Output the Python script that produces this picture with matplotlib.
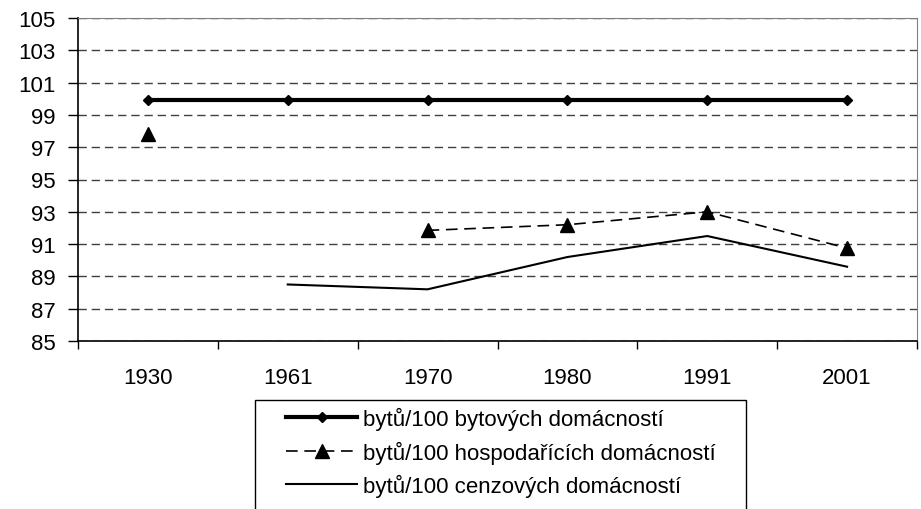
import numpy as np
import matplotlib.pyplot as plt
from matplotlib.patches import Rectangle

plt.rcParams['font.family'] = ['Liberation Sans', 'DejaVu Sans']

roky = ['1930', '1961', '1970', '1980', '1991', '2001']
bytove = [99.9, 99.9, 99.9, 99.9, 99.9, 99.9]
hospodarici = [97.8, np.nan, 91.85, 92.2, 93.0, 90.75]
cenzove = [np.nan, 88.5, 88.2, 90.2, 91.5, 89.6]

fig = plt.figure(figsize=(9.21, 5.1), dpi=100)
ax = fig.add_axes([78 / 921, 1 - 342 / 510, (917 - 78) / 921, (342 - 19) / 510])

x = np.arange(len(roky))
ax.plot(x, bytove, color='black', lw=3, marker='D', ms=5,
        label='bytů/100 bytových domácností')
ax.plot(x, hospodarici, color='black', lw=1.2, ls=(0, (7, 4)), marker='^', ms=10,
        label='bytů/100 hospodařících domácností')
ax.plot(x, cenzove, color='black', lw=1.5,
        label='bytů/100 cenzových domácností')

ax.set_xlim(-0.5, len(roky) - 0.5)
ax.set_ylim(85, 105)
ax.set_yticks(range(85, 106, 2))
ax.set_xticks(x)
ax.set_xticklabels(roky)
ax.set_xticks(np.arange(-0.5, len(roky), 1), minor=True)
ax.tick_params(axis='x', which='major', length=0, pad=19, labelsize=16)
ax.tick_params(axis='x', which='minor', length=6, width=1, direction='out')
ax.tick_params(axis='y', length=7, width=1, direction='out', pad=9, labelsize=16)

ax.yaxis.grid(True, color='#404040', ls=(0, (6, 3.5)), lw=1)
ax.set_axisbelow(True)
for s in ['top', 'right']:
    ax.spines[s].set_color('#808080')
for s in ['left', 'bottom']:
    ax.spines[s].set_color('black')
    ax.spines[s].set_linewidth(1.2)

# ramecek legendy (spodni cast je oriznuta)
fig.patches.append(Rectangle((255 / 921, -0.05), (746 - 255) / 921, 0.05 + 1 - 401 / 510,
                             transform=fig.transFigure, fill=False,
                             edgecolor='black', lw=1))
fig.legend(loc='upper left', bbox_to_anchor=(286 / 921, 1 - 408 / 510),
           frameon=False, fontsize=16, numpoints=1, handlelength=3.2,
           handletextpad=0.27, labelspacing=0.47, borderpad=0, borderaxespad=0)

plt.savefig('out.png', dpi=100)
